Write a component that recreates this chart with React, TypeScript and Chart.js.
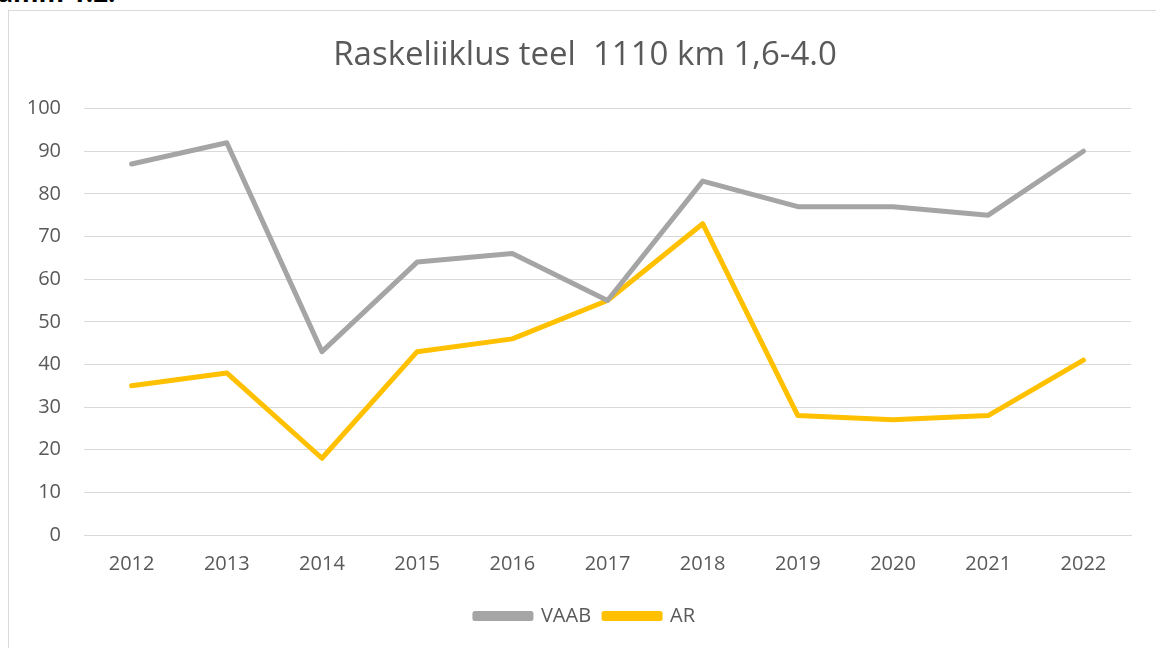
import React, { useEffect, useRef } from "react";
import { Chart, registerables } from "chart.js";

Chart.register(...registerables);

const years = ["2012", "2013", "2014", "2015", "2016", "2017", "2018", "2019", "2020", "2021", "2022"];
const vaab = [87, 92, 43, 64, 66, 55, 83, 77, 77, 75, 90];
const ar = [35, 38, 18, 43, 46, 55, 73, 28, 27, 28, 41];
const titleText = "Raskeliiklus teel  1110 km 1,6-4.0";
const captionText = "Diagramm 1.2.";

const FONT = "'Open Sans', Lato, 'Liberation Sans', sans-serif";
const TEXT = "#595959";

// lets the y-axis labels extend left of the axis box without being clipped
const unclipYLabels = {
  id: "unclipYLabels",
  afterLayout(chart: any) {
    if (chart.scales.y) chart.scales.y.left = 0;
  },
};

export default function App() {
  const ref = useRef<HTMLCanvasElement>(null);

  useEffect(() => {
    if (!ref.current) return;
    const chart = new Chart(ref.current, {
      type: "line",
      data: {
        labels: years,
        datasets: [
          {
            label: "VAAB",
            data: vaab,
            borderColor: "#A5A5A5",
            backgroundColor: "#A5A5A5",
            borderWidth: 5,
            pointRadius: 0,
            borderCapStyle: "round",
            borderJoinStyle: "round",
            tension: 0,
          },
          {
            label: "AR",
            data: ar,
            borderColor: "#FFC000",
            backgroundColor: "#FFC000",
            borderWidth: 5,
            pointRadius: 0,
            borderCapStyle: "round",
            borderJoinStyle: "round",
            tension: 0,
          },
        ],
      },
      plugins: [unclipYLabels],
      options: {
        animation: false,
        responsive: false,
        maintainAspectRatio: false,
        layout: { padding: { left: 30, right: 28, top: 0, bottom: 12 } },
        plugins: {
          title: {
            display: true,
            text: titleText,
            color: TEXT,
            font: { family: FONT, size: 33, weight: "normal" },
            padding: { top: 25, bottom: 33 },
          },
          legend: {
            position: "bottom",
            labels: {
              color: TEXT,
              font: { family: FONT, size: 20 },
              boxWidth: 56,
              boxHeight: 5,
              padding: 13,
            },
          },
          tooltip: { enabled: false },
        },
        scales: {
          x: {
            offset: true,
            grid: { display: false, drawTicks: false },
            border: { display: true, color: "#d9d9d9", width: 1 },
            ticks: { color: TEXT, font: { family: FONT, size: 20 }, padding: 17 },
          },
          y: {
            min: 0,
            max: 100,
            afterFit: (scale: any) => {
              scale.width = 45;
            },
            grid: { color: "#d9d9d9", lineWidth: 1, drawTicks: false },
            border: { display: false },
            ticks: { stepSize: 10, color: TEXT, font: { family: FONT, size: 20 }, padding: 23 },
          },
        },
      },
    });
    return () => chart.destroy();
  }, []);

  return (
    <div style={{ position: "fixed", inset: 0, overflow: "hidden", background: "#fff" }}>
      <div
        style={{
          position: "absolute",
          left: -72,
          top: -26,
          fontFamily: FONT,
          fontWeight: "bold",
          fontSize: 26,
          lineHeight: "normal",
          color: "#000",
          whiteSpace: "nowrap",
        }}
      >
        {captionText}
      </div>
      <div
        style={{
          position: "absolute",
          left: 8,
          top: 10,
          width: 1170,
          height: 660,
          border: "1px solid #d9d9d9",
          boxSizing: "border-box",
        }}
      />
      <canvas
        ref={ref}
        width={1150}
        height={637}
        style={{ position: "absolute", left: 9, top: 11, width: 1150, height: 637 }}
      />
    </div>
  );
}
